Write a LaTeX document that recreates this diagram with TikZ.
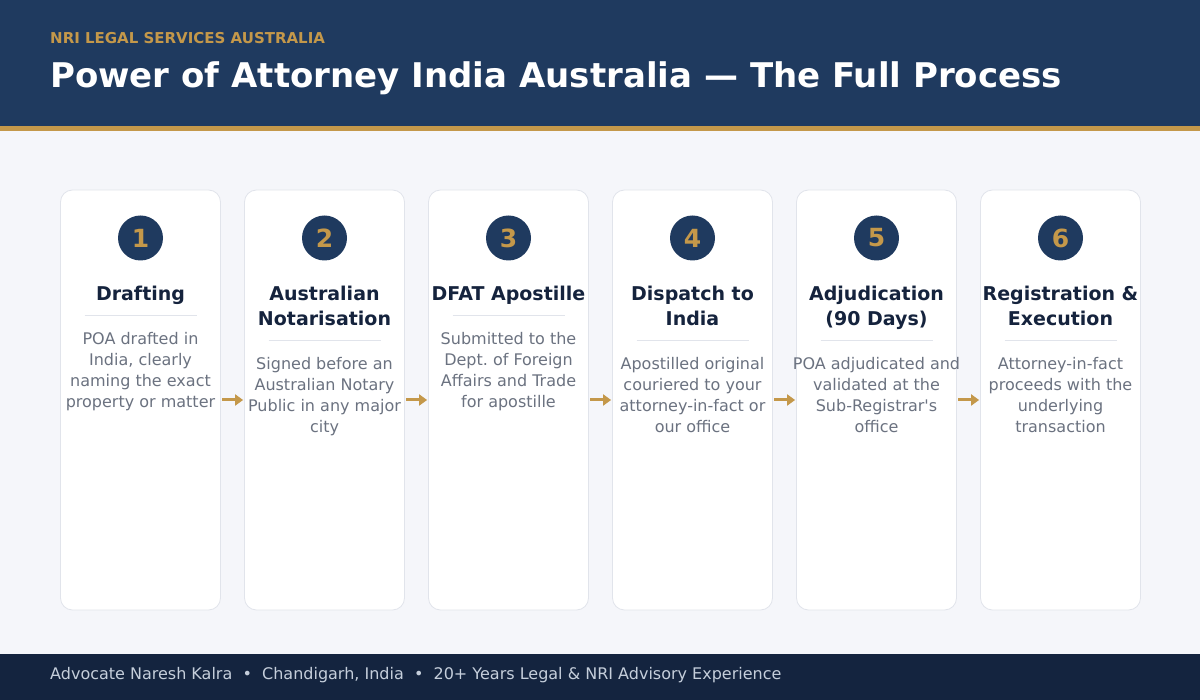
\documentclass[tikz,border=0pt]{standalone}
\usepackage{fontspec}
\setmainfont{DejaVu Sans}
\usetikzlibrary{positioning,arrows.meta}
\frenchspacing

\definecolor{navy}{HTML}{1F3A5F}
\definecolor{gold}{HTML}{C4984A}
\definecolor{footbg}{HTML}{14243F}
\definecolor{pagebg}{HTML}{F5F6FA}
\definecolor{cardline}{HTML}{E1E4EB}
\definecolor{ink}{HTML}{15233D}
\definecolor{muted}{HTML}{6B7280}
\definecolor{footink}{HTML}{C5CEDB}

\begin{document}
\begin{tikzpicture}[x=1pt,y=-1pt,
    card/.style={draw=cardline, fill=white, rounded corners=12pt, line width=0.8pt,
        minimum width=160pt, minimum height=420pt},
    badge/.style={circle, fill=navy, minimum size=45pt, inner sep=0pt, text=gold,
        font=\bfseries\fontsize{25}{25}\selectfont},
    steptitle/.style={anchor=north, align=center, inner sep=0pt, text=ink,
        font=\bfseries\fontsize{19}{25}\selectfont},
    stepdesc/.style={anchor=north, align=center, inner sep=0pt, text=muted,
        font=\fontsize{16}{21}\selectfont},
    divider/.style={draw=cardline, line width=0.8pt},
    flow/.style={draw=gold, line width=3pt, -{Triangle[length=8pt,width=11pt]},
        shorten <=1.5pt, shorten >=1pt}]
    \useasboundingbox (0,0) rectangle (1200,700);
    % Page, header band, gold strip and footer band
    \fill[pagebg] (0,0) rectangle (1200,700);
    \fill[navy] (0,0) rectangle (1200,126);
    \fill[gold] (0,126) rectangle (1200,131);
    \fill[footbg] (0,654) rectangle (1200,700);

    % Heading
    \node[anchor=base west, inner sep=0pt, text=gold, font=\bfseries\fontsize{15}{16}\selectfont]
        (kicker) at (50,44) {NRI LEGAL SERVICES AUSTRALIA};
    \node[anchor=base west, inner sep=0pt, text=white, font=\bfseries\fontsize{34}{36}\selectfont]
        (title) at (50,88) {Power of Attorney India Australia — The Full Process};

    % Step cards
    \foreach \i/\nl/\ttl/\desc in {
        1/1/{Drafting}/{POA drafted in\\India, clearly\\naming the exact\\property or matter},
        2/2/{Australian\\Notarisation}/{Signed before an\\Australian Notary\\Public in any major\\city},
        3/1/{DFAT Apostille}/{Submitted to the\\Dept. of Foreign\\Affairs and Trade\\for apostille},
        4/2/{Dispatch to\\India}/{Apostilled original\\couriered to your\\attorney-in-fact or\\our office},
        5/2/{Adjudication\\(90 Days)}/{POA adjudicated and\\validated at the\\Sub-Registrar\textquotesingle s\\office},
        6/2/{Registration \&\\Execution}/{Attorney-in-fact\\proceeds with the\\underlying\\transaction}} {
        \pgfmathsetmacro\cx{140.5+(\i-1)*184}
        \pgfmathsetmacro\off{(\nl-1)*25}
        \node[card] (c\i) at (\cx,400) {};
        \node[badge] (b\i) at (\cx,238) {\i};
        \node[steptitle] (t\i) at (\cx,285.6) {\ttl};
        \draw[divider] (\cx-56,315+\off) -- (\cx+56,315+\off);
        \node[stepdesc] (d\i) at (\cx,331.8+\off) {\desc};
    }

    % Arrows between the cards
    \foreach \i [evaluate=\i as \j using int(\i+1)] in {1,...,5}
        \draw[flow] (c\i) -- (c\j);

    % Footer line
    \node[anchor=base west, inner sep=0pt, text=footink, font=\fontsize{16}{17}\selectfont]
        (credit) at (50,679) {Advocate Naresh Kalra \ • \ Chandigarh, India \ • \ 20+ Years Legal \& NRI Advisory Experience};
\end{tikzpicture}
\end{document}
